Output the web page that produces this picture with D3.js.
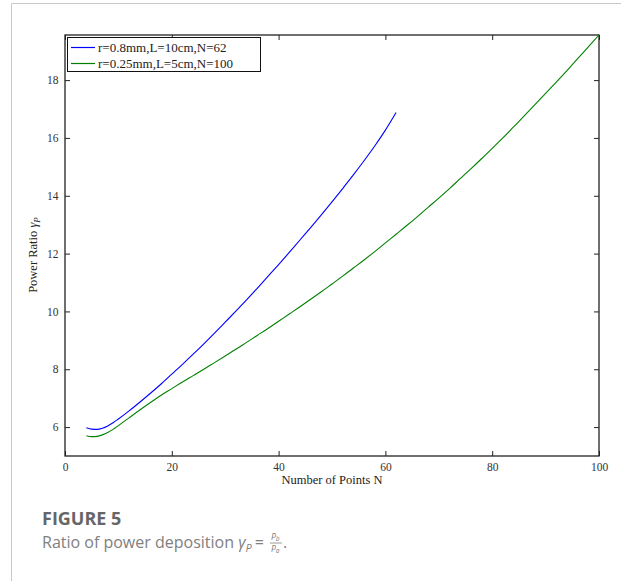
<!DOCTYPE html>
<html>
<head>
<meta charset="utf-8">
<script src="https://cdn.jsdelivr.net/npm/d3@7"></script>
<style>
  html, body { margin: 0; padding: 0; background: #fff; }
  svg { display: block; }
</style>
</head>
<body>
<svg id="fig" width="621" height="581"></svg>
<script>
// Power ratio gamma_P versus number of points N for two configurations
const seriesNames = ["r=0.8mm,L=10cm,N=62", "r=0.25mm,L=5cm,N=100"];
const seriesColors = ["#0000ff", "#008000"];

const nBlue = [4, 5, 6, 7, 8, 9, 10, 12, 14, 16, 18, 20, 22, 24, 26, 28, 30, 32, 34, 36, 38, 40,
               42, 44, 46, 48, 50, 52, 54, 56, 58, 60, 62];
const ratioBlue = [5.98, 5.93, 5.92, 5.96, 6.04, 6.15, 6.28, 6.56, 6.86, 7.17, 7.49, 7.83, 8.17, 8.52,
                   8.88, 9.25, 9.63, 10.01, 10.40, 10.80, 11.21, 11.62, 12.04, 12.47, 12.90, 13.34,
                   13.79, 14.25, 14.72, 15.21, 15.72, 16.27, 16.88];

const nGreen = [4, 5, 6, 7, 8, 9, 10, 12, 14, 16, 18, 20, 22, 24, 26, 28, 30, 32, 34, 36, 38, 40,
                42, 44, 46, 48, 50, 52, 54, 56, 58, 60, 62, 64, 66, 68, 70, 72, 74, 76, 78, 80,
                82, 84, 86, 88, 90, 92, 94, 96, 98, 100];
const ratioGreen = [5.70, 5.67, 5.68, 5.73, 5.81, 5.92, 6.05, 6.32, 6.59, 6.85, 7.10, 7.33, 7.56, 7.78,
                    8.00, 8.23, 8.46, 8.69, 8.93, 9.17, 9.41, 9.66, 9.91, 10.16, 10.42, 10.68, 10.95,
                    11.22, 11.50, 11.78, 12.07, 12.37, 12.67, 12.97, 13.28, 13.60, 13.92, 14.25, 14.59,
                    14.93, 15.28, 15.64, 16.00, 16.38, 16.76, 17.15, 17.54, 17.93, 18.33, 18.74,
                    19.15, 19.56];

const xTicks = [0, 20, 40, 60, 80, 100];
const yTicks = [6, 8, 10, 12, 14, 16, 18];

const svg = d3.select("#fig");
const serif = "'Liberation Serif', 'DejaVu Serif', serif";
const sans = "'Open Sans', 'Noto Sans', sans-serif";

// card outline
svg.append("path")
  .attr("d", "M11.5,581 L11.5,3.5 L621,3.5")
  .attr("fill", "none")
  .attr("stroke", "#c8c8c8")
  .attr("stroke-width", 1);

const plotLeft = 65, plotRight = 599, plotTop = 35, plotBottom = 456;
const x = d3.scaleLinear().domain([0, 100]).range([plotLeft, plotRight]);
const y = d3.scaleLinear().domain([5, d3.max(ratioGreen)]).range([plotBottom, plotTop]);

const tickLen = 5;
function styleAxis(g) {
  g.select(".domain").remove();
  g.selectAll(".tick line").attr("stroke", "#222").attr("stroke-width", 1);
  g.selectAll(".tick text").attr("fill", "#333").style("font-family", serif).style("font-size", "11.5px");
}

svg.append("g").attr("transform", `translate(0,${plotBottom})`)
  .call(d3.axisBottom(x).tickValues(xTicks).tickSizeInner(-tickLen).tickSizeOuter(0).tickPadding(7))
  .call(styleAxis);
svg.append("g").attr("transform", `translate(0,${plotTop})`)
  .call(d3.axisTop(x).tickValues(xTicks).tickSizeInner(-tickLen).tickSizeOuter(0).tickFormat(""))
  .call(styleAxis);
svg.append("g").attr("transform", `translate(${plotLeft},0)`)
  .call(d3.axisLeft(y).tickValues(yTicks).tickSizeInner(-tickLen).tickSizeOuter(0).tickPadding(6.5))
  .call(styleAxis);
svg.append("g").attr("transform", `translate(${plotRight},0)`)
  .call(d3.axisRight(y).tickValues(yTicks).tickSizeInner(-tickLen).tickSizeOuter(0).tickFormat(""))
  .call(styleAxis);

// plot frame
svg.append("rect")
  .attr("x", plotLeft).attr("y", plotTop)
  .attr("width", plotRight - plotLeft).attr("height", plotBottom - plotTop)
  .attr("fill", "none").attr("stroke", "#222").attr("stroke-width", 1.3);

// curves
const line = d3.line().x(d => x(d[0])).y(d => y(d[1])).curve(d3.curveMonotoneX);
const series = [
  d3.zip(nBlue, ratioBlue),
  d3.zip(nGreen, ratioGreen)
];
series.forEach((pts, i) => {
  svg.append("path")
    .datum(pts)
    .attr("d", line)
    .attr("fill", "none")
    .attr("stroke", seriesColors[i])
    .attr("stroke-width", 1.1);
});

// legend
const lg = svg.append("g");
lg.append("rect")
  .attr("x", 67.5).attr("y", 37.5).attr("width", 193).attr("height", 34)
  .attr("fill", "#fff").attr("stroke", "#111").attr("stroke-width", 1);
seriesNames.forEach((name, i) => {
  const yy = 47.5 + i * 16;
  lg.append("line")
    .attr("x1", 71).attr("x2", 95).attr("y1", yy).attr("y2", yy)
    .attr("stroke", seriesColors[i]).attr("stroke-width", 1.2);
  lg.append("text")
    .attr("x", 98).attr("y", yy + 4)
    .attr("fill", "#222")
    .style("font-family", serif).style("font-size", "13px")
    .text(name);
});

// axis titles
svg.append("text")
  .attr("x", (plotLeft + plotRight) / 2).attr("y", 484)
  .attr("text-anchor", "middle").attr("fill", "#222")
  .style("font-family", serif).style("font-size", "12.5px")
  .text("Number of Points N");

const yt = svg.append("text")
  .attr("transform", "translate(37,255) rotate(-90)")
  .attr("text-anchor", "middle").attr("fill", "#222")
  .style("font-family", serif).style("font-size", "12.5px");
yt.append("tspan").text("Power Ratio ");
yt.append("tspan").style("font-style", "italic").text("γ");
yt.append("tspan").style("font-style", "italic").style("font-size", "9px").attr("dy", 3).text("P");

// caption block: title line, description line and the P_b / P_a fraction
const capX = 42, capY = 547.5;
const cap = svg.append("text")
  .attr("fill", "#808080")
  .style("font-family", sans).style("font-size", "16px");
cap.append("tspan")
  .attr("x", capX).attr("y", 525)
  .attr("fill", "#666").style("font-size", "18px").style("font-weight", "700")
  .text("FIGURE 5");
const lineParts = [
  cap.append("tspan").attr("x", capX).attr("y", capY).text("Ratio of power deposition "),
  cap.append("tspan").style("font-style", "italic").text("γ"),
  cap.append("tspan").style("font-style", "italic").style("font-size", "11px").attr("dy", 4).text("P"),
  cap.append("tspan").attr("dy", -4).attr("dx", 3).text("=")
];
const endX = capX + d3.sum(lineParts, t => t.node().getComputedTextLength()) + 9;
cap.append("tspan").attr("x", endX + 1).attr("y", capY - 7.5)
  .style("font-style", "italic").style("font-size", "8.5px").text("P");
cap.append("tspan").attr("dy", 1.2)
  .style("font-style", "italic").style("font-size", "6.5px").text("b");
cap.append("tspan").attr("x", endX + 1).attr("y", capY + 4.5)
  .style("font-style", "italic").style("font-size", "8.5px").text("P");
cap.append("tspan").attr("dy", 1.2)
  .style("font-style", "italic").style("font-size", "6.5px").text("a");
cap.append("tspan").attr("x", endX + 13).attr("y", capY).text(".");
svg.append("line")
  .attr("x1", endX).attr("x2", endX + 12).attr("y1", capY - 4.5).attr("y2", capY - 4.5)
  .attr("stroke", "#808080").attr("stroke-width", 0.8);
</script>
</body>
</html>
